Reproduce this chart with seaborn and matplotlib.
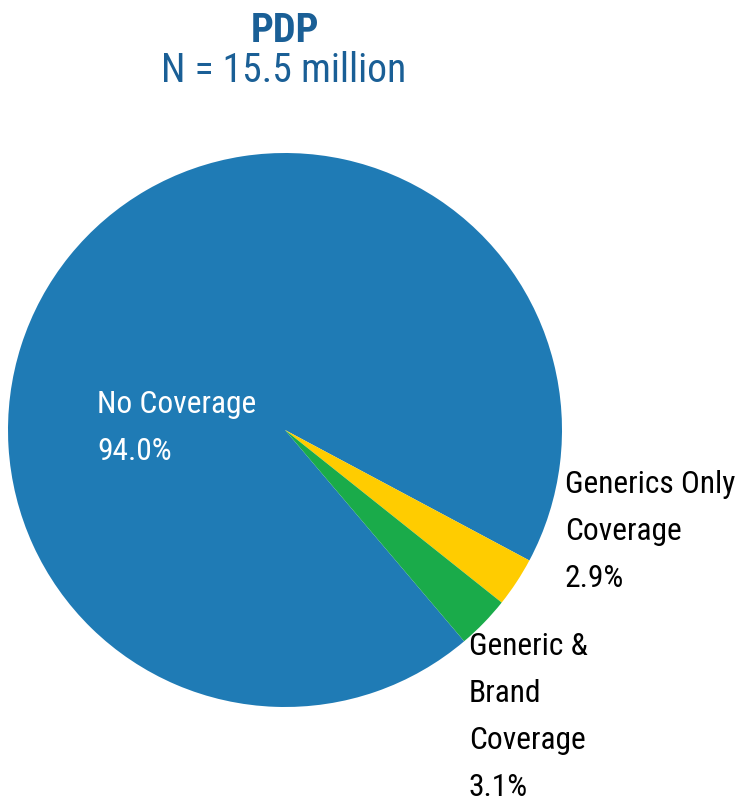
import matplotlib
matplotlib.use("Agg")
import matplotlib.pyplot as plt
import seaborn as sns

sns.set_theme(style="white")
plt.rcParams['font.family'] = ['Roboto Condensed', 'Liberation Sans', 'DejaVu Sans']

categories = ["No Coverage", "Generics Only\nCoverage", "Generic &\nBrand\nCoverage"]
shares = [94.0, 2.9, 3.1]
colors = ["#1f7bb5", "#ffcc00", "#1aab4a"]
title = "PDP"
subtitle = "N = 15.5 million"

W, H = 742, 800
fig = plt.figure(figsize=(W / 100, H / 100), dpi=100)
fig.patch.set_facecolor("white")

cx, cy, r = 285, 430, 277
ax = fig.add_axes([(cx - r) / W, (H - cy - r) / H, 2 * r / W, 2 * r / H])
ax.pie(shares, colors=colors, startangle=-49.7, counterclock=False,
       wedgeprops=dict(linewidth=0), radius=1.0)
ax.set_xlim(-1, 1)
ax.set_ylim(-1, 1)
ax.axis("off")

def px_text(x, y, s, **kw):
    fig.text(x / W, 1 - y / H, s, **kw)

title_color = "#1a5f96"
px_text(285, 42, title, ha="center", va="baseline", fontsize=29,
        fontweight="bold", color=title_color)
px_text(284, 82, subtitle, ha="center", va="baseline", fontsize=28.5,
        color=title_color)

label_pos = [(97, 413, "white"), (565, 493, "black"), (469, 655, "black")]
step = 47
for cat, val, (lx, ly, col) in zip(categories, shares, label_pos):
    lines = cat.split("\n") + [f"{val:.1f}%"]
    for i, line in enumerate(lines):
        px_text(lx, ly + i * step, line, ha="left", va="baseline",
                fontsize=22.7, color=col)

fig.savefig("out.png", dpi=100, facecolor="white")
